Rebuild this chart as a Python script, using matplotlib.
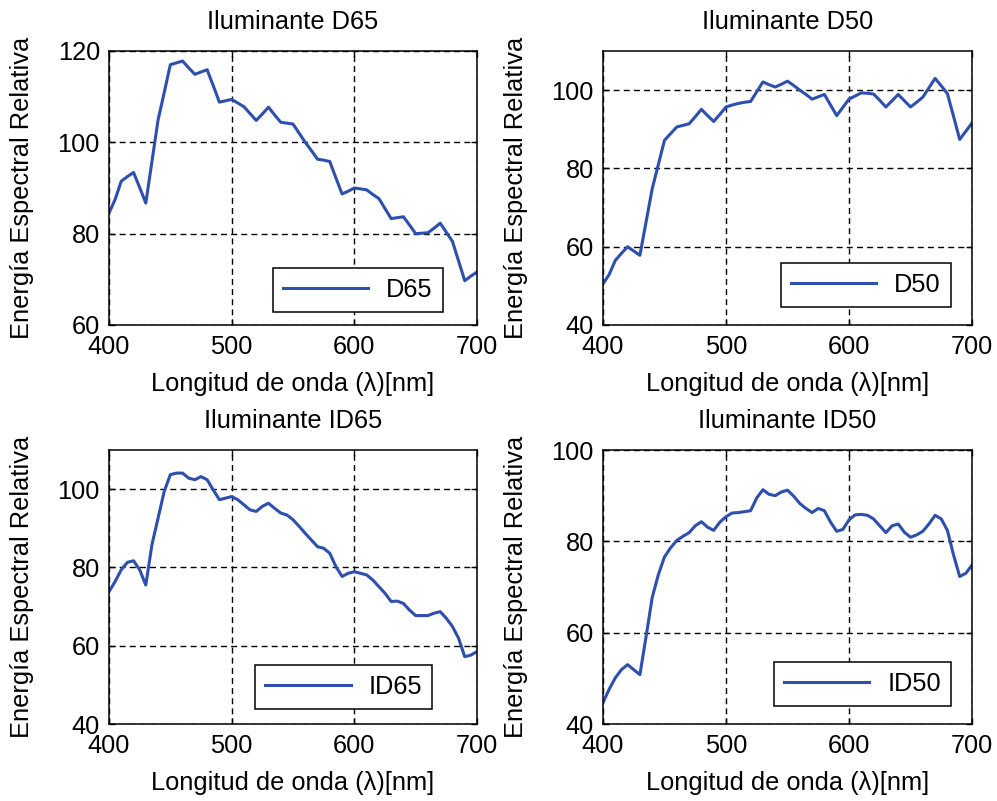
import numpy as np
import matplotlib
matplotlib.use("Agg")
import matplotlib.pyplot as plt
from matplotlib.legend_handler import HandlerLine2D

plt.rcParams['font.family'] = ['Liberation Sans', 'DejaVu Sans']

# Wavelength grid (nm)
wavelength = np.arange(400, 701, 5)

# Relative spectral power of each illuminant
d65 = [84.5, 87.5, 91.5, 92.5, 93.4, 90.1, 86.7, 95.8, 104.9, 110.9,
       117.0, 117.4, 117.8, 116.3, 114.9, 115.4, 115.9, 112.4, 108.8, 109.1,
       109.4, 108.6, 107.8, 106.3, 104.8, 106.2, 107.7, 106.0, 104.4, 104.2,
       104.0, 102.0, 100.0, 98.2, 96.3, 96.1, 95.8, 92.2, 88.7, 89.3,
       90.0, 89.8, 89.6, 88.6, 87.7, 85.5, 83.3, 83.5, 83.7, 81.9,
       80.0, 80.1, 80.2, 81.2, 82.3, 80.3, 78.3, 74.0, 69.7, 70.7, 71.6]

d50 = [50.5, 52.9, 56.5, 58.3, 60.0, 58.9, 57.8, 66.3, 74.8, 81.0,
       87.2, 88.9, 90.6, 91.0, 91.4, 93.2, 95.1, 93.5, 92.0, 93.8,
       95.7, 96.2, 96.6, 96.9, 97.1, 99.6, 102.1, 101.4, 100.8, 101.5,
       102.3, 101.2, 100.0, 98.9, 97.7, 98.3, 98.9, 96.2, 93.5, 95.6,
       97.7, 98.5, 99.3, 99.2, 99.0, 97.4, 95.7, 97.3, 98.9, 97.3,
       95.7, 96.9, 98.2, 100.6, 103.0, 101.1, 99.1, 93.3, 87.4, 89.5, 91.6]

id65 = [73.8, 76.4, 79.4, 81.3, 81.7, 79.4, 75.5, 85.8, 92.6, 99.4,
        103.7, 104.1, 104.1, 102.8, 102.4, 103.2, 102.4, 99.8, 97.3, 97.7,
        98.1, 97.3, 96.0, 94.7, 94.3, 95.6, 96.4, 95.1, 93.9, 93.4,
        92.2, 90.5, 88.7, 87.0, 85.3, 84.9, 83.6, 80.2, 77.7, 78.5,
        78.9, 78.5, 78.1, 76.8, 75.1, 73.4, 71.3, 71.4, 70.8, 69.1,
        67.7, 67.7, 67.7, 68.3, 68.7, 67.0, 64.9, 61.9, 57.2, 57.6, 58.5]

id50 = [44.7, 47.6, 50.1, 51.9, 53.0, 51.9, 50.8, 59.1, 67.7, 72.7,
        76.6, 78.6, 80.2, 81.1, 81.9, 83.4, 84.3, 83.1, 82.4, 84.2,
        85.4, 86.2, 86.3, 86.5, 86.7, 89.5, 91.3, 90.3, 90.0, 90.8,
        91.2, 89.9, 88.3, 87.2, 86.3, 87.2, 86.7, 84.2, 82.2, 82.6,
        84.7, 85.8, 85.9, 85.7, 84.9, 83.4, 81.9, 83.4, 83.8, 82.0,
        80.9, 81.4, 82.2, 83.8, 85.7, 84.9, 82.4, 77.0, 72.3, 73.0, 74.8]

names = ["D65", "D50", "ID65", "ID50"]
series = [d65, d50, id65, id50]
y_limits = [(60, 120), (40, 110), (40, 110), (40, 100)]
y_ticks = [[60, 80, 100, 120], [40, 60, 80, 100], [40, 60, 80, 100], [40, 60, 80, 100]]
x_ticks = [400, 500, 600, 700]

# Panel rectangles in pixels: left, top, right, bottom
W, H = 997, 801
panels = [(109, 51, 477, 325), (603, 51, 972, 325),
          (109, 450, 477, 724), (603, 450, 972, 724)]
legend_anchor = [(0.9076, 0.0474), (0.943, 0.0657), (0.878, 0.055), (0.943, 0.065)]

FS = 18.3
line_color = '#2d4fae'


class InsetLine(HandlerLine2D):
    """Legend line that leaves a small blank gap before its sample."""
    def __init__(self, lead=0.2, **kw):
        super().__init__(**kw)
        self.lead = lead

    def create_artists(self, legend, orig_handle, xdescent, ydescent,
                       width, height, fontsize, trans):
        artists = super().create_artists(legend, orig_handle, xdescent, ydescent,
                                         width, height, fontsize, trans)
        for a in artists:
            xd = np.asarray(a.get_xdata(), dtype=float)
            if xd.size == 2:
                xd[0] = xd[0] + self.lead * fontsize
                a.set_xdata(xd)
        return artists


fig = plt.figure(figsize=(W / 100, H / 100), dpi=100)

for name, vals, ylim, yt, (l, t, r, b), anc in zip(names, series, y_limits, y_ticks,
                                                  panels, legend_anchor):
    ax = fig.add_axes([l / W, (H - b) / H, (r - l) / W, (b - t) / H])
    line, = ax.plot(wavelength, vals, color=line_color, linewidth=2.2, label=name)
    ax.set_xlim(400, 700)
    ax.set_ylim(*ylim)
    ax.set_xticks(x_ticks)
    ax.set_yticks(yt)
    ax.grid(True, color='black', linestyle=(0, (4.3, 3.0)), linewidth=1.0)
    ax.tick_params(axis='both', direction='in', length=4, width=1,
                   top=True, right=True, labelsize=FS)
    ax.tick_params(axis='x', pad=7.5)
    ax.tick_params(axis='y', pad=6.5)
    for sp in ax.spines.values():
        sp.set_linewidth(1.1)
    ax.set_title("Iluminante " + name, fontsize=FS, pad=16)
    ax.set_xlabel("Longitud de onda (λ)[nm]", fontsize=FS, labelpad=9)
    ax.set_ylabel("Energía Espectral Relativa", fontsize=FS, labelpad=17)
    leg = ax.legend(loc='lower right', bbox_to_anchor=anc, borderaxespad=0,
                    fontsize=FS, fancybox=False, framealpha=1, edgecolor='black',
                    handlelength=3.35, handletextpad=0.7, borderpad=0.4,
                    handler_map={line: InsetLine(lead=0.2)})
    leg.get_frame().set_linewidth(1.1)

fig.savefig("out.png", dpi=100, facecolor='white')
